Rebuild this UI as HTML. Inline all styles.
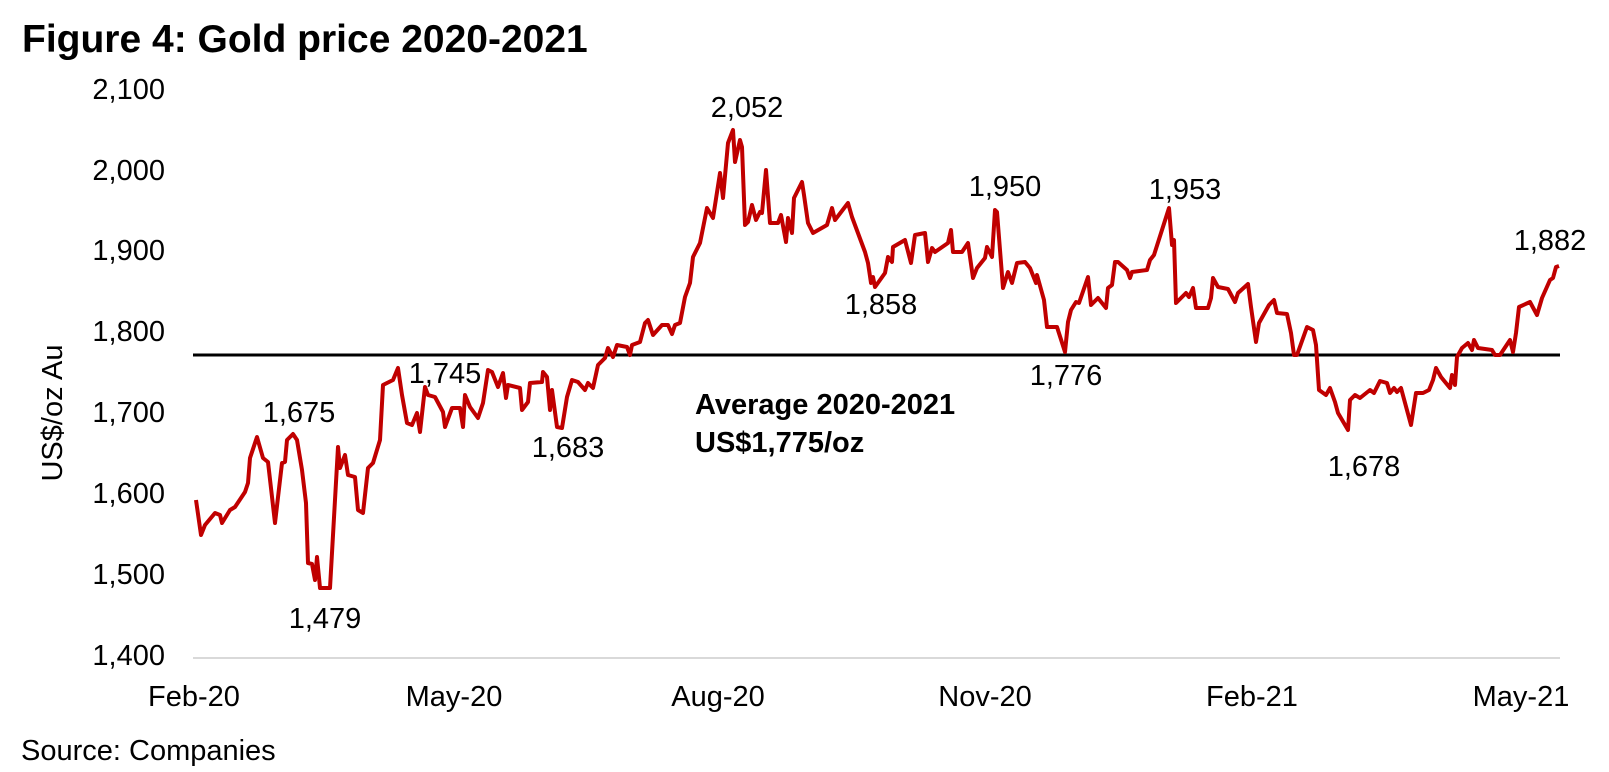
<!DOCTYPE html>
<html><head><meta charset="utf-8"><style>
body{margin:0;background:#fff;}
svg{display:block;font-family:"Liberation Sans",Arial,sans-serif;}
</style></head><body>
<svg width="1609" height="772" viewBox="0 0 1609 772" xmlns="http://www.w3.org/2000/svg">
<text x="22" y="52" font-size="39" font-weight="bold" fill="#000">Figure 4: Gold price 2020-2021</text>
<g font-size="29" fill="#000" text-anchor="end">
<text x="165" y="99">2,100</text>
<text x="165" y="180">2,000</text>
<text x="165" y="260">1,900</text>
<text x="165" y="341">1,800</text>
<text x="165" y="422">1,700</text>
<text x="165" y="503">1,600</text>
<text x="165" y="584">1,500</text>
<text x="165" y="665">1,400</text>
</g>
<text transform="translate(62,413) rotate(-90)" font-size="29" text-anchor="middle">US$/oz Au</text>
<line x1="193" y1="658" x2="1560" y2="658" stroke="#d9d9d9" stroke-width="2"/>
<g font-size="29" text-anchor="middle">
<text x="194" y="706">Feb-20</text>
<text x="454" y="706">May-20</text>
<text x="718" y="706">Aug-20</text>
<text x="985" y="706">Nov-20</text>
<text x="1252" y="706">Feb-21</text>
<text x="1521" y="706">May-21</text>
</g>
<text x="21" y="760" font-size="29">Source: Companies</text>
<line x1="193" y1="355" x2="1560" y2="355" stroke="#000" stroke-width="3"/>
<polyline fill="none" stroke="#C00000" stroke-width="4" stroke-linejoin="round" points="
196,500 201,535 205,525 215,513 220,515 222,523 230,510 235,507 245,492 248,483 250,458 257,437 263,458 268,462 275,523 282,463 285,462 287,440 293,434 297,440 302,470 306,503 308,563 312,564 315,580 317,557 320,588 330,588 338,447 340,468 345,455 348,475 355,477 358,510 363,513 368,468 373,463 380,440 383,385 393,380 398,368 402,395 407,423 412,425 417,413 420,432 425,387 428,395 435,397 443,412 445,427 452,408 460,408 463,427 465,395 470,407 478,418 483,403 488,370 492,372 498,387 503,373 506,398 508,385 520,388 522,410 528,402 530,383 542,382 543,372 547,377 550,410 552,390 557,427 562,428 567,397 572,380 578,382 585,390 588,383 593,388 598,365
605,358 608,348 613,357 617,345 627,347 630,355 632,345 640,342 645,323 648,320 653,335 662,325 668,325 672,334 675,325 680,323 685,297 690,283 693,257 700,243 707,208 713,218 720,173 723,198 728,143 733,130 735,162 740,140 742,147 745,225 748,222 752,205 756,220 760,212 762,213 766,170 770,223 778,223 781,215 786,242 788,218 792,233 794,198 802,182 804,195 808,223 813,233 827,225 832,208 835,220 848,203 852,217 865,252 868,263 871,283 873,277 875,287 885,273 888,257 892,262 893,247 905,240 911,263 915,235 925,233 928,262 932,248 935,252 948,243 951,230 953,252 962,252 968,243 973,278 977,268 985,258 987,247 992,257 995,210 997,212 1003,288 1008,272 1012,283 1017,263 1025,262 1030,268
1036,283 1037,275 1044,300 1047,327 1057,327 1065,352 1068,322 1071,310 1076,302 1079,303 1088,277 1091,305 1098,298 1106,308 1108,288 1112,285 1115,262 1118,262 1127,270 1130,278 1132,272 1147,270 1150,260 1154,255 1169,208 1172,245 1174,240 1176,303 1186,293 1189,297 1193,288 1196,308 1208,308 1211,298 1213,278 1218,287 1228,289 1235,302 1238,293 1248,284 1251,307 1256,342 1259,323 1269,305 1274,300 1277,313 1287,314 1291,333 1294,355 1297,355 1307,327 1313,330 1316,345 1319,390 1326,395 1330,388 1335,402 1338,413 1348,430 1350,400 1355,395 1360,398 1370,390 1374,393 1380,381 1387,383 1390,393 1394,388 1397,392 1401,388 1411,425 1416,393 1423,393 1429,390 1433,380 1436,368 1441,377 1450,388 1452,375 1455,385 1457,357
1462,348 1468,343 1472,350 1474,340 1478,348 1492,350 1495,355 1500,355 1510,340 1513,352 1516,333 1519,307 1530,302 1537,315 1542,298 1550,280 1553,278 1556,267 1559,266"/>
<g font-size="29" text-anchor="middle">
<text x="747" y="117">2,052</text>
<text x="299" y="422">1,675</text>
<text x="445" y="383">1,745</text>
<text x="568" y="457">1,683</text>
<text x="325" y="628">1,479</text>
<text x="881" y="314">1,858</text>
<text x="1005" y="196">1,950</text>
<text x="1066" y="385">1,776</text>
<text x="1185" y="199">1,953</text>
<text x="1364" y="476">1,678</text>
<text x="1550" y="250">1,882</text>
</g>
<g font-size="29" font-weight="bold">
<text x="695" y="414">Average 2020-2021</text>
<text x="695" y="452">US$1,775/oz</text>
</g>
</svg>
</body></html>
